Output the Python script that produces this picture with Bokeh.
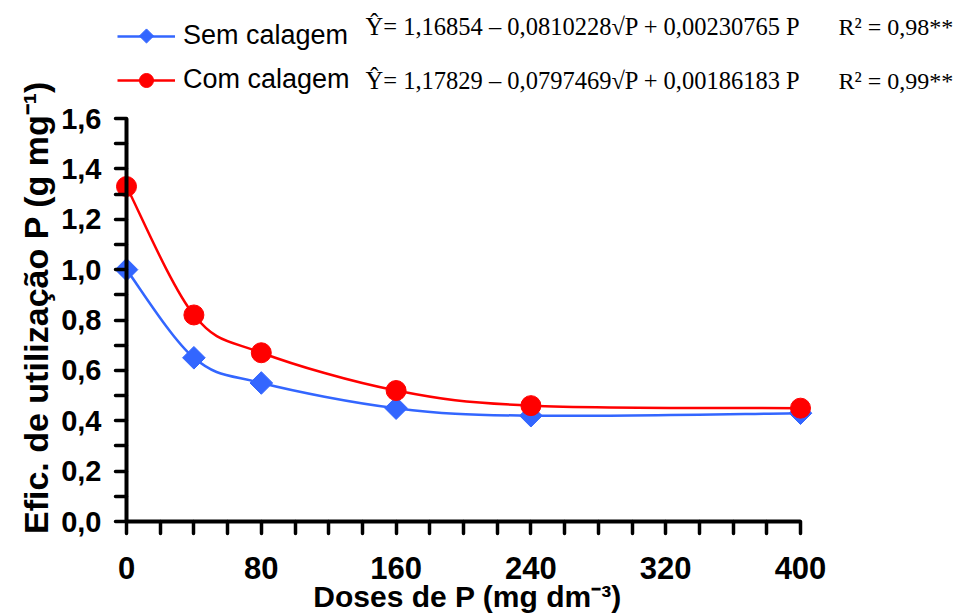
import math
from bokeh.plotting import figure
from bokeh.models import (ColumnDataSource, FixedTicker, Label, Legend, LegendItem, Range1d,
                          LinearAxis)
from bokeh.embed import file_html
from bokeh.resources import INLINE

# ---------------- data ----------------
doses = [0, 40, 80, 160, 240, 400]
sem_calagem = [1.00, 0.65, 0.55, 0.45, 0.42, 0.43]
com_calagem = [1.33, 0.82, 0.67, 0.52, 0.46, 0.45]

x_ticks = [0, 80, 160, 240, 320, 400]
x_minor_ticks = [20, 40, 60, 100, 120, 140, 180, 200, 220, 260, 280, 300, 340, 360, 380]
y_ticks = [0, 0.2, 0.4, 0.6, 0.8, 1.0, 1.2, 1.4, 1.6]
y_tick_labels = ["0,0", "0,2", "0,4", "0,6", "0,8", "1,0", "1,2", "1,4", "1,6"]
y_minor_ticks = [0.1, 0.3, 0.5, 0.7, 0.9, 1.1, 1.3, 1.5]

series_names = ["Sem calagem", "Com calagem"]
equations = ["\u0176= 1,16854 \u2013 0,0810228\u221aP + 0,00230765 P",
             "\u0176= 1,17829 \u2013 0,0797469\u221aP  + 0,00186183 P"]
r2_texts = ["R\u00b2 = 0,98**", "R\u00b2 = 0,99**"]
x_title = "Doses de P (mg dm\u207b\u00b3)"
y_title = "Efic. de utiliza\u00e7\u00e3o P (g mg\u207b\u00b9)"

BLUE = "#3366FF"
RED = "#FF0000"

# ---------------- layout (pixels) ----------------
# The frame covers the whole canvas; axes are drawn at fixed data locations.
W, H = 955, 614
AX_LEFT, AX_RIGHT = 126, 800      # pixel of x=0 and x=400
AX_BOTTOM, AX_TOP = 521, 118      # pixel of y=0 and y=1.6
kx = (AX_RIGHT - AX_LEFT) / 400.0
ky = (AX_BOTTOM - AX_TOP) / 1.6
x_start = -AX_LEFT / kx
x_end = 400 + (W - AX_RIGHT) / kx
y_start = -(H - AX_BOTTOM) / ky
y_end = 1.6 + AX_TOP / ky

LEG_X = 117          # left of legend sample line
LEG_GLYPH_W = 58
LEG_ROWS = [35.5, 80]  # vertical centres of legend rows
EQ_X, R2_X = 365, 838


def dx(px):
    return (px - AX_LEFT) / kx


def dy(py):
    return (AX_BOTTOM - py) / ky


def smooth_segments(xs, ys):
    """Bezier control points (Excel-like smoothing) through the given points."""
    n = len(xs)
    cols = dict(x0=[], y0=[], x1=[], y1=[], cx0=[], cy0=[], cx1=[], cy1=[])
    for i in range(n - 1):
        a = i - 1 if i > 0 else i
        d = i + 2 if i + 2 < n else i + 1
        cols["x0"].append(xs[i]); cols["y0"].append(ys[i])
        cols["x1"].append(xs[i + 1]); cols["y1"].append(ys[i + 1])
        cols["cx0"].append(xs[i] + (xs[i + 1] - xs[a]) / 6.0)
        cols["cy0"].append(ys[i] + (ys[i + 1] - ys[a]) / 6.0)
        cols["cx1"].append(xs[i + 1] - (xs[d] - xs[i]) / 6.0)
        cols["cy1"].append(ys[i + 1] - (ys[d] - ys[i]) / 6.0)
    return ColumnDataSource(cols)


p = figure(width=W, height=H, x_range=Range1d(x_start, x_end), y_range=Range1d(y_start, y_end),
           output_backend="svg", toolbar_location=None,
           x_axis_location=None, y_axis_location=None,
           min_border=0, min_border_left=0, min_border_right=0,
           min_border_top=0, min_border_bottom=0)
p.outline_line_color = None
p.xgrid.visible = False
p.ygrid.visible = False
p.background_fill_color = "white"
p.border_fill_color = "white"

# axes (fixed at x=0 / y=0)
xa = LinearAxis(fixed_location=0, bounds=(0, 400),
                ticker=FixedTicker(ticks=x_ticks, minor_ticks=x_minor_ticks))
ya = LinearAxis(fixed_location=0, bounds=(0, 1.6),
                ticker=FixedTicker(ticks=y_ticks, minor_ticks=y_minor_ticks))
ya.major_label_overrides = dict(zip(y_ticks, y_tick_labels))
p.add_layout(xa, "below")
p.add_layout(ya, "left")

for ax in (xa, ya):
    ax.axis_line_width = 4
    ax.axis_line_color = "black"
    ax.major_tick_in = 0
    ax.minor_tick_in = 0
    ax.major_tick_line_width = 3.5
    ax.minor_tick_line_width = 3.5
    ax.major_tick_line_color = "black"
    ax.minor_tick_line_color = "black"
    ax.major_tick_line_cap = "round"
    ax.minor_tick_line_cap = "round"
    ax.major_label_text_font = "Liberation Sans"
    ax.major_label_text_font_style = "bold"
    ax.major_label_text_color = "black"

xa.major_tick_out = 12
xa.minor_tick_out = 12
xa.major_label_standoff = 23
xa.major_label_text_font_size = "31px"
ya.major_tick_out = 11
ya.minor_tick_out = 11
ya.major_label_standoff = 14
ya.major_label_text_font_size = "29px"

# curves
bez_sem = p.bezier(x0="x0", y0="y0", x1="x1", y1="y1", cx0="cx0", cy0="cy0", cx1="cx1", cy1="cy1",
                   source=smooth_segments(doses, sem_calagem), line_color=BLUE, line_width=2.5)
bez_com = p.bezier(x0="x0", y0="y0", x1="x1", y1="y1", cx0="cx0", cy0="cy0", cx1="cx1", cy1="cy1",
                   source=smooth_segments(doses, com_calagem), line_color=RED, line_width=2.5)
sc_sem = p.scatter(doses, sem_calagem, marker="square", angle=math.pi / 4, size=16,
                   fill_color=BLUE, line_color=BLUE)
sc_com = p.scatter(doses, com_calagem, marker="circle", size=20,
                   fill_color=RED, line_color=RED)

# axis titles
p.add_layout(Label(x=dx(467), y=dy(612), text=x_title, text_align="center",
                   text_baseline="bottom", text_font="Liberation Sans",
                   text_font_style="bold", text_font_size="30px", text_color="black"))
p.add_layout(Label(x=dx(35), y=dy(307), text=y_title, angle=math.pi / 2,
                   text_align="center", text_baseline="middle", text_font="Liberation Sans",
                   text_font_style="bold", text_font_size="34px", text_color="black"))

# legend (sample lines + labels), with marker samples drawn at the legend glyph centres
legend = Legend(items=[LegendItem(label=series_names[0], renderers=[bez_sem]),
                       LegendItem(label=series_names[1], renderers=[bez_com])],
                location=(LEG_X, H - 95), orientation="vertical",
                glyph_width=LEG_GLYPH_W, glyph_height=28, label_height=28, spacing=13,
                padding=0, margin=0, label_standoff=8,
                border_line_alpha=0, background_fill_alpha=0,
                label_text_font="Liberation Sans", label_text_font_size="27px",
                label_text_color="black")
p.add_layout(legend)
leg_cx = dx(LEG_X + LEG_GLYPH_W / 2)
p.scatter([leg_cx], [dy(LEG_ROWS[0])], marker="square", angle=math.pi / 4, size=10,
          fill_color=BLUE, line_color=BLUE)
p.scatter([leg_cx], [dy(LEG_ROWS[1])], marker="circle", size=14,
          fill_color=RED, line_color=RED)

# equations
row_y = [26, 80]
for i in range(2):
    p.add_layout(Label(x=dx(EQ_X), y=dy(row_y[i]), text=equations[i], text_align="left",
                       text_baseline="middle", text_font="Liberation Serif",
                       text_font_size="24.5px", text_color="black"))
    p.add_layout(Label(x=dx(R2_X), y=dy(row_y[i]), text=r2_texts[i], text_align="left",
                       text_baseline="middle", text_font="Liberation Serif",
                       text_font_size="24px", text_color="black"))

open("out.html", "w").write(file_html(p, INLINE))
